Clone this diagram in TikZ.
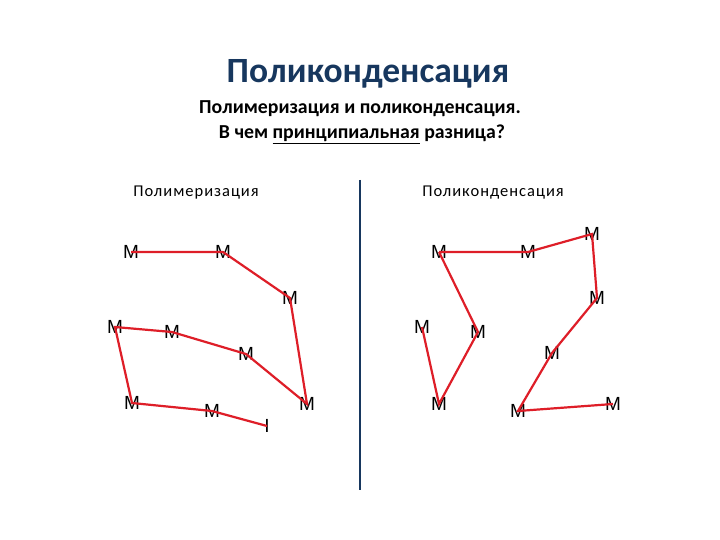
\documentclass[tikz,border=0pt]{standalone}
\usepackage{fontspec}
\setmainfont{Carlito}
\newfontfamily\mfont{Liberation Sans}
\newfontfamily\labfont[LetterSpace=6]{Carlito}
\definecolor{navy}{RGB}{23,55,94}
\definecolor{chainred}{RGB}{222,30,40}
\begin{document}
\begin{tikzpicture}[x=1pt,y=-1pt,
  mono/.style={font=\mfont\fontsize{19}{21}\selectfont, inner sep=0pt, text=black},
  bond/.style={draw=chainred, line width=2.2pt}]
\useasboundingbox (0,0) rectangle (720,540);
% titles
\node (title) at (368,74) {\fontsize{35.5}{40}\selectfont\bfseries\color{navy}Поликонденсация};
\node (sub1) at (360,109) {\fontsize{19.8}{23}\selectfont\bfseries Полимеризация и поликонденсация.};
\node (sub2) at (362,134) {\fontsize{19.8}{23}\selectfont\bfseries В чем \underline{принципиальная} разница?};
\node (lab1) at (196,193) {\labfont\fontsize{16.5}{19}\selectfont Полимеризация};
\node (lab2) at (493,193) {\labfont\fontsize{16.5}{19}\selectfont Поликонденсация};
% divider
\coordinate (dtop) at (360,180);
\coordinate (dbot) at (360,490);
\draw[navy, line width=2.5pt] (dtop) -- (dbot);
% left chain
\node[mono] (a1) at (131,252) {M};
\node[mono] (a2) at (223,252) {M};
\node[mono] (a3) at (290,298) {M};
\node[mono] (a4) at (115,327) {M};
\node[mono] (a5) at (172,332) {M};
\node[mono] (a6) at (246,354) {M};
\node[mono] (a7) at (307,404) {M};
\node[mono] (a8) at (132,403) {M};
\node[mono] (a9) at (212,411) {M};
\node[mono] (a10) at (267,426) {I};
\draw[bond] (a1.center) -- (a2.center) -- (a3.center) -- (a7.center) -- (a6.center) -- (a5.center) -- (a4.center) -- (a8.center) -- (a9.center) -- (a10.center);
% right chain
\node[mono] (b1) at (439,252) {M};
\node[mono] (b2) at (528,252) {M};
\node[mono] (b3) at (592,234) {M};
\node[mono] (b4) at (597,298) {M};
\node[mono] (b5) at (422,327) {M};
\node[mono] (b6) at (478,332) {M};
\node[mono] (b7) at (552,353) {M};
\node[mono] (b8) at (439,404) {M};
\node[mono] (b9) at (518,411) {M};
\node[mono] (b10) at (613,404) {M};
\draw[bond] (b1.center) -- (b2.center) -- (b3.center) -- (b4.center) -- (b7.center) -- (b9.center) -- (b10.center);
\draw[bond] (b1.center) -- (b6.center) -- (b8.center) -- (b5.center);
\end{tikzpicture}
\end{document}
